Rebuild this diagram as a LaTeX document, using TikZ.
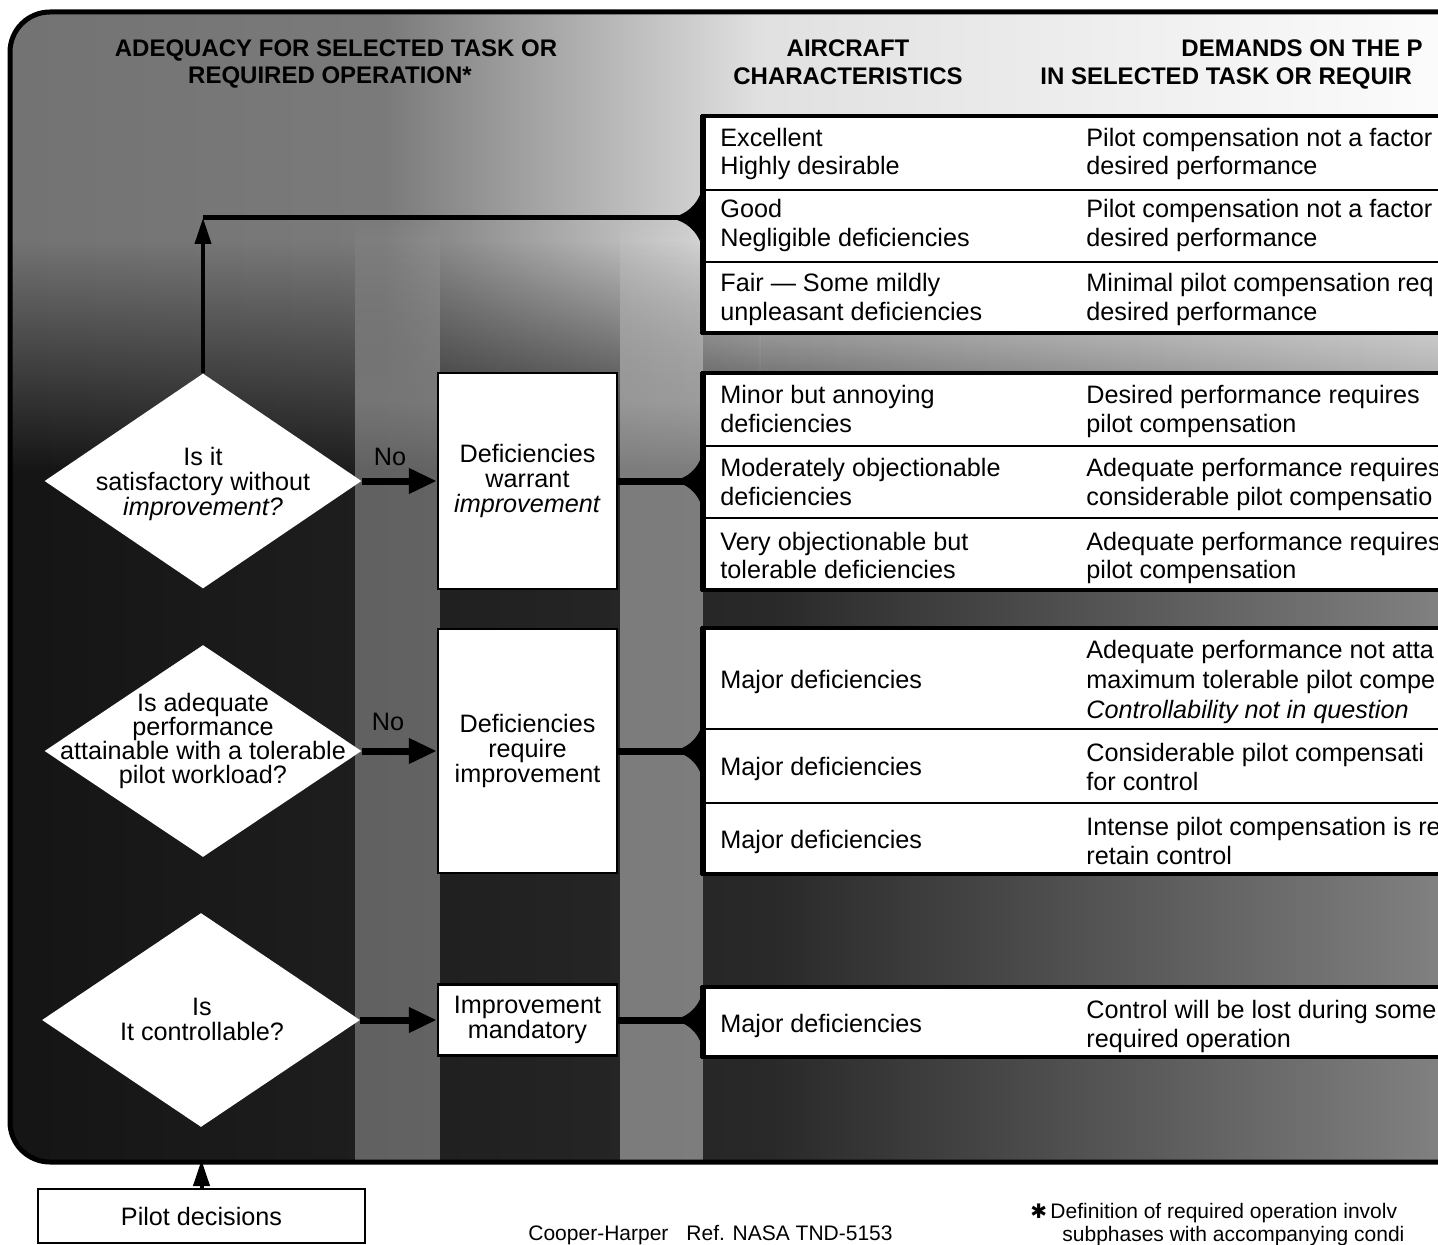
\documentclass[tikz,border=0pt]{standalone}
\usepackage{fontspec}
\setmainfont{Liberation Sans}
\newfontfamily\symfont{DejaVu Sans}
\usetikzlibrary{shapes.geometric,arrows.meta,fadings}
\tikzfading[name=topfade, top color=transparent!0, bottom color=transparent!100, middle color=transparent!0]
\tikzfading[name=capfade, top color=transparent!100, bottom color=transparent!0]
\newcommand\cornerfill[3]{%
  \fill ({#1-#3},#2) -- (#1,#2) -- (#1,{#2-#3}) arc[start angle=0,end angle=90,radius=#3] -- cycle;
  \fill ({#1-#3},#2) -- (#1,#2) -- (#1,{#2+#3}) arc[start angle=0,end angle=-90,radius=#3] -- cycle;}
\begin{document}
\begin{tikzpicture}[x=0.5pt,y=-0.5pt,
  txt/.style={inner sep=0pt, font=\fontsize{12.6}{14}\selectfont},
  cell/.style={txt, anchor=base west},
  head/.style={inner sep=0pt, font=\bfseries\fontsize{12}{14}\selectfont, anchor=base},
  foot/.style={inner sep=0pt, font=\fontsize{10.5}{12}\selectfont, anchor=base west},
  grp/.style={fill=white, draw=black, line width=2pt},
  sepline/.style={line width=1pt},
  dia/.style={diamond, fill=white, inner sep=0pt, minimum width=158.5pt},
  wbox/.style={rectangle, fill=white, draw=black, line width=1.2pt, minimum width=89.5pt, align=center, inner sep=0pt, font=\fontsize{12.6}{12.5}\selectfont},
  harr/.style={line width=3.5pt, -{Triangle[length=14pt,width=12pt]}},
  varr/.style={line width=2pt, -{Triangle[length=13pt,width=8pt]}},
  bar/.style={line width=3.5pt},
  dtext/.style={txt, align=center}
]
\useasboundingbox (0,0) rectangle (1438,1245);
\clip (0,0) rectangle (1438,1245);
\fill[white] (0,0) rectangle (1438,1245);
% ---------- background of the frame
\begin{scope}
  \clip[rounded corners=20pt] (10,12) rectangle (1530,1162);
  \shade[left color=black!92, right color=black!45, middle color=black!84] (10,12) rectangle (1530,1162);
  \shade[left color=black!55, right color=black!12, middle color=black!52, path fading=topfade] (10,12) rectangle (760,470);
  \shade[left color=black!12, right color=white, path fading=topfade] (760,12) rectangle (1530,470);
  \fill[white, opacity=0.3, path fading=capfade] (355,220) rectangle (440,400);
  \fill[white, opacity=0.3] (355,400) rectangle (440,1162);
  \fill[white, opacity=0.4, path fading=capfade] (620,220) rectangle (703,400);
  \fill[white, opacity=0.4] (620,400) rectangle (703,1162);
\end{scope}
\draw[line width=2.5pt, rounded corners=20pt] (10,12) rectangle (1530,1162);

% ---------- headers
\node[head] (h1a) at (336,57) {ADEQUACY FOR SELECTED TASK OR};
\node[head] (h1b) at (330,84) {REQUIRED OPERATION*};
\node[head] (h2a) at (848,57) {AIRCRAFT};
\node[head] (h2b) at (848,85) {CHARACTERISTICS};
\node[head, anchor=base west] (h3a) at (1181,57) {DEMANDS ON THE P};
\node[head, anchor=base west] (h3b) at (1040,85) {IN SELECTED TASK OR REQUIR};

% ---------- table groups
\draw[grp] (703,116) rectangle (1540,333);
\draw[sepline] (703,190) -- (1540,190) (703,262) -- (1540,262);
\draw[line width=3pt] (703,115) -- (703,334);

\draw[grp] (703,373) rectangle (1540,590);
\draw[sepline] (703,446) -- (1540,446) (703,518) -- (1540,518);
\draw[line width=3pt] (703,372) -- (703,591);

\draw[grp] (703,628) rectangle (1540,874);
\draw[sepline] (703,729) -- (1540,729) (703,803) -- (1540,803);
\draw[line width=3pt] (703,627) -- (703,875);

\draw[grp] (703,987) rectangle (1540,1057);
\draw[line width=3pt] (703,986) -- (703,1058);

% ---------- table texts
\node[cell] (L1a) at (720,147) {Excellent};
\node[cell] (L1b) at (720,175) {Highly desirable};
\node[cell] (R1a) at (1086,147) {Pilot compensation not a factor};
\node[cell] (R1b) at (1086,175) {desired performance};
\node[cell] (L2a) at (720,218) {Good};
\node[cell] (L2b) at (720,247) {Negligible deficiencies};
\node[cell] (R2a) at (1086,218) {Pilot compensation not a factor};
\node[cell] (R2b) at (1086,247) {desired performance};
\node[cell] (L3a) at (720,292) {Fair — Some mildly};
\node[cell] (L3b) at (720,321) {unpleasant deficiencies};
\node[cell] (R3a) at (1086,292) {Minimal pilot compensation req};
\node[cell] (R3b) at (1086,321) {desired performance};

\node[cell] (L4a) at (720,404) {Minor but annoying};
\node[cell] (L4b) at (720,432) {deficiencies};
\node[cell] (R4a) at (1086,404) {Desired performance requires};
\node[cell] (R4b) at (1086,432) {pilot compensation};
\node[cell] (L5a) at (720,476) {Moderately objectionable};
\node[cell] (L5b) at (720,505) {deficiencies};
\node[cell] (R5a) at (1086,476) {Adequate performance requires};
\node[cell] (R5b) at (1086,505) {considerable pilot compensatio};
\node[cell] (L6a) at (720,550) {Very objectionable but};
\node[cell] (L6b) at (720,578) {tolerable deficiencies};
\node[cell] (R6a) at (1086,550) {Adequate performance requires};
\node[cell] (R6b) at (1086,578) {pilot compensation};

\node[cell] (L7) at (720,688) {Major deficiencies};
\node[cell] (R7a) at (1086,658) {Adequate performance not atta};
\node[cell] (R7b) at (1086,688) {maximum tolerable pilot compe};
\node[cell] (R7c) at (1086,718) {\itshape Controllability not in question};
\node[cell] (L8) at (720,775) {Major deficiencies};
\node[cell] (R8a) at (1086,761) {Considerable pilot compensati};
\node[cell] (R8b) at (1086,790) {for control};
\node[cell] (L9) at (720,848) {Major deficiencies};
\node[cell] (R9a) at (1086,835) {Intense pilot compensation is re};
\node[cell] (R9b) at (1086,864) {retain control};

\node[cell] (L10) at (720,1032) {Major deficiencies};
\node[cell] (R10a) at (1086,1018) {Control will be lost during some};
\node[cell] (R10b) at (1086,1047) {required operation};

% ---------- decision diamonds
\node[dia, minimum height=107.5pt] (d1) at (203,481) {};
\node[dia, minimum height=106pt] (d2) at (203,751) {};
\node[dia, minimum height=107pt, minimum width=159pt] (d3) at (201,1020) {};
\node[dtext, font=\fontsize{12.6}{12.5}\selectfont] (t1) at (203,484) {Is it\\satisfactory without\\\textit{improvement?}};
\node[dtext, font=\fontsize{12.6}{12}\selectfont] (t2) at (203,741) {Is adequate\\performance\\attainable with a tolerable\\pilot workload?};
\node[dtext, font=\fontsize{12.6}{12.5}\selectfont] (t3) at (202,1019) {Is\\It controllable?};

% ---------- result boxes
\node[wbox, minimum height=108pt] (b1) at (527.5,481) {Deficiencies\\warrant\\\textit{improvement}};
\node[wbox, minimum height=122pt] (b2) at (527.5,751) {Deficiencies\\require\\improvement};
\node[wbox, minimum height=35.5pt] (b3) at (527.5,1020) {Improvement\\mandatory};

% ---------- connectors
\coordinate (j1) at (203,218);
\coordinate (g1) at (703,218);
\coordinate (g2) at (703,481);
\coordinate (g3) at (703,751);
\coordinate (g4) at (703,1020);
\draw[line width=2.5pt] (j1) -- (g1);
\draw[bar] (b1.east) -- (g2);
\draw[bar] (b2.east) -- (g3);
\draw[bar] (b3.east) -- (g4);
\cornerfill{703}{218}{38}
\cornerfill{703}{481}{35}
\cornerfill{703}{751}{35}
\cornerfill{703}{1020}{35}

\draw[varr] (d1.north) -- (j1);
\draw[harr] (d1.east) -- (b1.west);
\draw[harr] (d2.east) -- (b2.west);
\draw[harr] (d3.east) -- (b3.west);
\node[txt] (no1) at (390,457) {No};
\node[txt] (no2) at (388,722) {No};

% ---------- pilot decisions
\node[txt, rectangle, draw=black, line width=1.2pt, fill=white, minimum width=163.5pt, minimum height=27pt] (pd) at (201.5,1216) {Pilot decisions};
\coordinate (fb) at (201.5,1160);
\draw[varr] (pd.north) -- (fb);

% ---------- footer
\node[foot] (f1) at (528,1240) {Cooper-Harper};
\node[foot] (f2) at (686,1240) {Ref. NASA TND-5153};
\node[foot, font=\symfont\fontsize{10}{12}\selectfont] (f3) at (1030,1218) {✱};
\node[foot] (f4) at (1050,1218) {Definition of required operation involv};
\node[foot] (f5) at (1062,1241) {subphases with accompanying condi};
\end{tikzpicture}
\end{document}
